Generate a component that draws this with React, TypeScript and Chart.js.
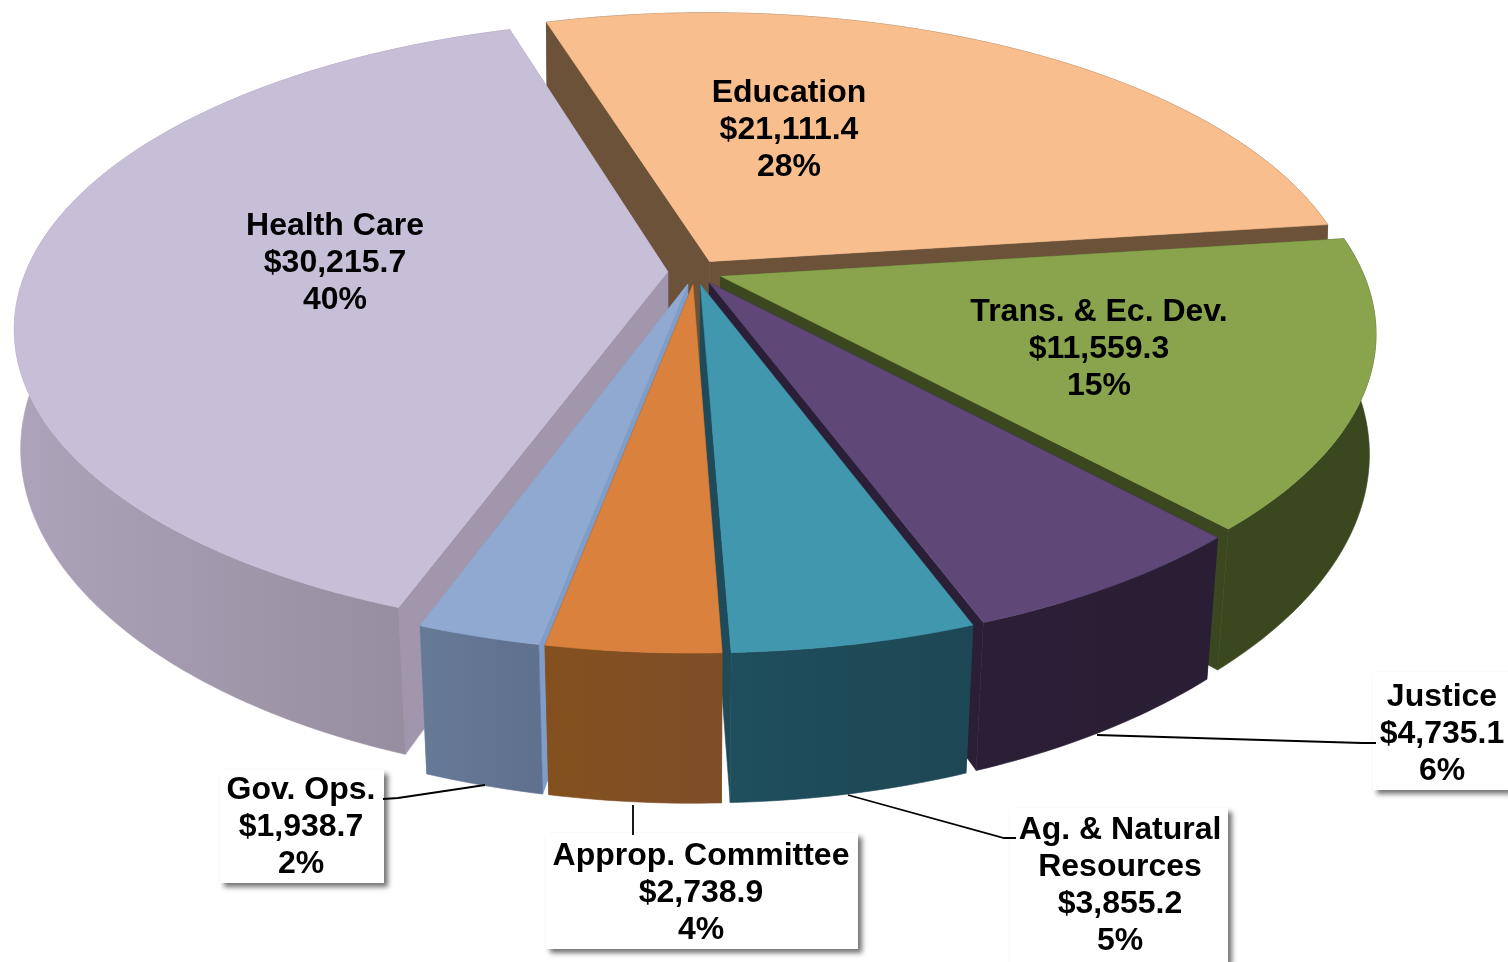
import React, { useEffect, useRef } from "react";
import { Chart, registerables } from "chart.js";

Chart.register(...registerables);

const categories = ["Education", "Trans. & Ec. Dev.", "Justice", "Ag. & Natural Resources", "Approp. Committee", "Gov. Ops.", "Health Care"];
const labelLines = [["Education"], ["Trans. & Ec. Dev."], ["Justice"], ["Ag. & Natural", "Resources"], ["Approp. Committee"], ["Gov. Ops."], ["Health Care"]];
const amounts = [21111.4, 11559.3, 4735.1, 3855.2, 2738.9, 1938.7, 30215.7];
const percents = [28, 15, 6, 5, 4, 2, 40];
const topColors = ["#F8BE8D", "#8AA44E", "#5F4778", "#4197AE", "#D9813D", "#8FA9D1", "#C7BED8"];
const wallLeft = ["#6B5238", "#3B471F", "#2B1F37", "#1F4E5C", "#84501F", "#667A96", "#ADA3BA"];
const wallRight = ["#6B5238", "#3B471F", "#2A1E35", "#1E4755", "#7F4E27", "#60708F", "#928899"];
const edgeWalls = ["#6B5238", "#3B471F", "#2B1F37", "#1F4A59", "#84501F", "#7F9DC8", "#A296AC"];
const paintOrder = [0, 6, 1, 2, 5, 3, 4];

const labelCenters = [[789, 93], [1099, 312], [1442, 697], [1120, 830], [701, 856], [301, 790], [335, 226]];
const labelBoxes: (number[] | null)[] = [null, null, [1373, 672, 135, 118], [1010, 808, 218, 154], [546, 833, 312, 116], [220, 770, 164, 113], null];
const leaders: (number[][] | null)[] = [
  null,
  null,
  [[1097, 735], [1362, 743], [1376, 743]],
  [[848, 795], [1004, 838], [1016, 838]],
  [[633, 805], [633, 835]],
  [[485, 785], [398, 798], [383, 799]],
  null,
];

const CX = 695, CY = 272, R = 642, RC = 297, K = 0.18, DEPTH = 122;

function proj(u: number, v: number, z: number) {
  const s = 1 / (1 - K * v);
  const shrink = 0.006 + 0.019 * Math.max(v, 0);
  return [CX + R * u * s * (1 - shrink * z), CY + RC * v * s + DEPTH * s * z];
}

function poly(ctx: CanvasRenderingContext2D, pts: number[][], fill: any) {
  ctx.beginPath();
  pts.forEach((p, i) => (i ? ctx.lineTo(p[0], p[1]) : ctx.moveTo(p[0], p[1])));
  ctx.closePath();
  ctx.fillStyle = fill;
  ctx.fill();
  ctx.strokeStyle = fill;
  ctx.lineWidth = 0.6;
  ctx.stroke();
}

const pie3d = {
  id: "pie3d",
  beforeDatasetDraw(chart: any) {
    const ctx: CanvasRenderingContext2D = chart.ctx;
    const arcs = chart.getDatasetMeta(0).data;
    ctx.save();
    for (const i of paintOrder) {
      const a = arcs[i];
      const { startAngle, endAngle, outerRadius } = a.getProps(["startAngle", "endAngle", "outerRadius"], true);
      const mid = (startAngle + endAngle) / 2;
      const off = (a.options.offset || 0) / outerRadius;
      const ou = Math.cos(mid) * off;
      const ov = Math.sin(mid) * off;
      const n = Math.max(4, Math.ceil((endAngle - startAngle) / 0.015));
      const rim = (z: number) => {
        const out: number[][] = [];
        for (let k = 0; k <= n; k++) {
          const t = startAngle + ((endAngle - startAngle) * k) / n;
          out.push(proj(ou + Math.cos(t), ov + Math.sin(t), z));
        }
        return out;
      };
      const top = rim(0);
      const bottom = rim(1);
      const c0 = proj(ou, ov, 0);
      const c1 = proj(ou, ov, 1);
      poly(ctx, [c0, top[0], bottom[0], c1], edgeWalls[i]);
      poly(ctx, [c0, top[n], bottom[n], c1], edgeWalls[i]);
      const xs = top.map((p) => p[0]);
      const g = ctx.createLinearGradient(Math.min(...xs), 0, Math.max(...xs), 0);
      g.addColorStop(0, wallLeft[i]);
      g.addColorStop(1, wallRight[i]);
      poly(ctx, [...top, ...bottom.slice().reverse()], g);
      poly(ctx, [c0, ...top], a.options.backgroundColor);
    }
    ctx.restore();
    return false;
  },
  afterDraw(chart: any) {
    const ctx: CanvasRenderingContext2D = chart.ctx;
    ctx.save();
    categories.forEach((_, i) => {
      const box = labelBoxes[i];
      if (box) {
        ctx.save();
        ctx.shadowColor = "rgba(0,0,0,0.55)";
        ctx.shadowBlur = 5;
        ctx.shadowOffsetX = 4;
        ctx.shadowOffsetY = 4;
        ctx.fillStyle = "#fff";
        ctx.fillRect(box[0], box[1], box[2], box[3]);
        ctx.restore();
      }
      const line = leaders[i];
      if (line) {
        ctx.beginPath();
        line.forEach((p, k) => (k ? ctx.lineTo(p[0], p[1]) : ctx.moveTo(p[0], p[1])));
        ctx.strokeStyle = "#000";
        ctx.lineWidth = 1.8;
        ctx.stroke();
      }
      const [x, y] = labelCenters[i];
      const money = "$" + amounts[i].toLocaleString("en-US", { minimumFractionDigits: 1, maximumFractionDigits: 1 });
      const lines = [...labelLines[i], money, percents[i] + "%"];
      ctx.font = 'bold 32px "Liberation Sans", Arial, sans-serif';
      ctx.textAlign = "center";
      ctx.textBaseline = "middle";
      ctx.fillStyle = "#000";
      lines.forEach((t, k) => ctx.fillText(t, x, y + k * 37));
    });
    ctx.restore();
  },
};

export default function App() {
  const ref = useRef<HTMLCanvasElement>(null);
  useEffect(() => {
    document.body.style.margin = "0";
    document.body.style.background = "#fff";
    const chart = new Chart(ref.current!, {
      type: "pie",
      data: {
        labels: categories,
        datasets: [{ data: amounts, backgroundColor: topColors, borderWidth: 0, offset: 20 }],
      },
      options: {
        animation: false,
        responsive: false,
        rotation: -17.2,
        layout: { padding: 0 },
        plugins: { legend: { display: false }, tooltip: { enabled: false } },
      },
      plugins: [pie3d],
    } as any);
    return () => chart.destroy();
  }, []);
  return <canvas ref={ref} width={1508} height={962} style={{ display: "block" }} />;
}
